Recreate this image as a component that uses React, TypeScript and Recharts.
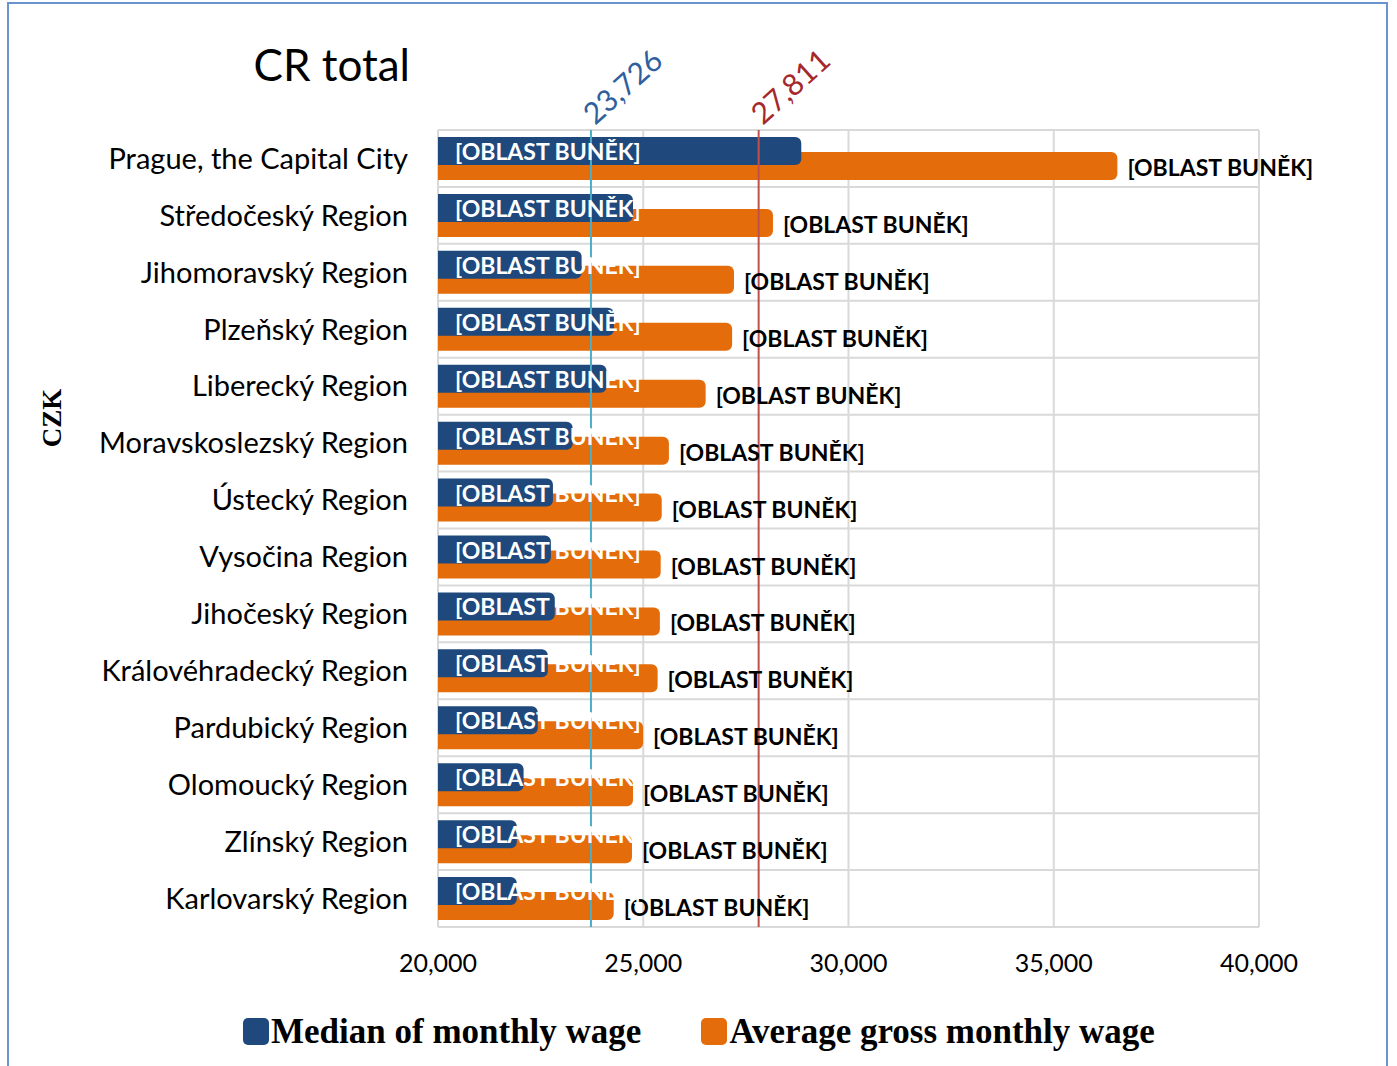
import React from 'react';
import {
  Bar,
  BarChart,
  CartesianGrid,
  LabelList,
  Legend,
  ReferenceLine,
  XAxis,
  YAxis,
} from 'recharts';

const regions = [
  'Prague, the Capital City',
  'Středočeský Region',
  'Jihomoravský Region',
  'Plzeňský Region',
  'Liberecký Region',
  'Moravskoslezský Region',
  'Ústecký Region',
  'Vysočina Region',
  'Jihočeský Region',
  'Královéhradecký Region',
  'Pardubický Region',
  'Olomoucký Region',
  'Zlínský Region',
  'Karlovarský Region',
];
const medianWage = [28850, 24750, 23500, 24285, 24105, 23280, 22800, 22750, 22845, 22675, 22430, 22085, 21920, 21920];
const averageWage = [36550, 28160, 27210, 27165, 26520, 25625, 25450, 25425, 25405, 25350, 24995, 24750, 24725, 24280];
const xTicks = [20000, 25000, 30000, 35000, 40000];
const crMedian = 23726;
const crAverage = 27811;
const cellLabel = '[OBLAST BUNĚK]';
const legendItems = [
  { name: 'Median of monthly wage', color: '#1f497d' },
  { name: 'Average gross monthly wage', color: '#e46c0a' },
];

const colors = {
  median: '#1f497d',
  average: '#e46c0a',
  medianLine: '#4bacc6',
  averageLine: '#c0504d',
  medianText: '#2f5f9e',
  averageText: '#a5282d',
  grid: '#d9d9d9',
  frame: '#6a94cf',
};

const data = regions.map((region, i) => ({
  region,
  median: medianWage[i],
  average: averageWage[i],
}));

const sans = 'Lato, "Open Sans", sans-serif';
const serif = '"Liberation Serif", "Times New Roman", serif';

function box(props: any) {
  const vb = props.viewBox || props;
  return { x: Number(vb.x), y: Number(vb.y), width: Number(vb.width), height: Number(vb.height) };
}

function MedianLabel(props: any) {
  const { x, y, height } = box(props);
  return (
    <text x={x + 17} y={y + height / 2} dominantBaseline="central" fill="#fff"
      fontFamily={sans} fontWeight={700} fontSize={23}>
      {cellLabel}
    </text>
  );
}

function AverageLabel(props: any) {
  const { x, y, width, height } = box(props);
  return (
    <text x={x + width + 10} y={y + height / 2 + 1} dominantBaseline="central" fill="#000"
      fontFamily={sans} fontWeight={700} fontSize={23}>
      {cellLabel}
    </text>
  );
}

function lineLabel(text: string, color: string) {
  return (props: any) => {
    const { x, y } = box(props);
    const tx = x + 4;
    const ty = y - 4;
    return (
      <text x={tx} y={ty} transform={`rotate(-42, ${tx}, ${ty})`} fill={color}
        fontFamily={sans} fontSize={30}>
        {text}
      </text>
    );
  };
}

function LegendContent() {
  return (
    <div style={{ display: 'flex', gap: 60, paddingLeft: 243, alignItems: 'center' }}>
      {legendItems.map((item) => (
        <div key={item.name} style={{ display: 'flex', alignItems: 'center' }}>
          <div style={{ width: 26, height: 27, borderRadius: 5, background: item.color, marginRight: 2 }} />
          <span style={{ fontFamily: serif, fontWeight: 700, fontSize: 35, color: '#000', lineHeight: 1 }}>
            {item.name}
          </span>
        </div>
      ))}
    </div>
  );
}

export default function App() {
  return (
    <div style={{ position: 'absolute', left: 0, top: 0, width: 1397, height: 1066, overflow: 'hidden', background: '#fff' }}>
      <div style={{ position: 'absolute', left: 7, top: 2, width: 1377, height: 1100, border: `2px solid ${colors.frame}` }} />
      <div style={{ position: 'absolute', left: 0, top: 42, width: 410, textAlign: 'right', fontFamily: sans, fontSize: 44, color: '#000', lineHeight: 1 }}>
        CR total
      </div>
      <div style={{ position: 'absolute', left: 52, top: 418, transform: 'translate(-50%, -50%) rotate(-90deg)', fontFamily: serif, fontWeight: 700, fontSize: 27, color: '#000', lineHeight: 1 }}>
        CZK
      </div>
      <BarChart
        width={1397}
        height={1066}
        data={data}
        layout="vertical"
        margin={{ top: 130, right: 138, bottom: 79, left: 30 }}
        barGap={-13}
      >
        <CartesianGrid
          stroke={colors.grid}
          strokeWidth={2}
          horizontalCoordinatesGenerator={({ offset }: any) =>
            Array.from({ length: regions.length + 1 }, (_, i) => offset.top + (i * offset.height) / regions.length)
          }
        />
        <XAxis
          type="number"
          domain={[20000, 40000]}
          ticks={xTicks}
          tickFormatter={(v: number) => v.toLocaleString('en-US')}
          axisLine={false}
          tickLine={false}
          tickMargin={21}
          height={60}
          tick={{ fill: '#000', fontSize: 25, fontFamily: sans }}
        />
        <YAxis
          type="category"
          dataKey="region"
          width={408}
          axisLine={false}
          tickLine={false}
          tickMargin={24}
          interval={0}
          tick={{ fill: '#000', fontSize: 29, fontFamily: sans }}
        />
        <YAxis yAxisId="front" type="category" dataKey="region" hide />
        <Bar dataKey="median" fill="transparent" barSize={28} legendType="none" isAnimationActive={false} />
        <Bar dataKey="average" name="Average gross monthly wage" fill={colors.average} barSize={28}
          radius={[0, 6, 6, 0]} isAnimationActive={false}>
          <LabelList dataKey="average" content={AverageLabel} />
        </Bar>
        <Bar yAxisId="front" dataKey="median" name="Median of monthly wage" fill={colors.median} barSize={28}
          radius={[0, 6, 6, 0]} isAnimationActive={false}>
          <LabelList dataKey="median" content={MedianLabel} />
        </Bar>
        <Bar yAxisId="front" dataKey="average" fill="transparent" barSize={28} legendType="none" isAnimationActive={false} />
        <ReferenceLine x={crMedian} stroke={colors.medianLine} strokeWidth={2}
          label={lineLabel(crMedian.toLocaleString('en-US'), colors.medianText)} />
        <ReferenceLine x={crAverage} stroke={colors.averageLine} strokeWidth={2}
          label={lineLabel(crAverage.toLocaleString('en-US'), colors.averageText)} />
        <Legend
          layout="horizontal"
          verticalAlign="middle"
          align="center"
          content={LegendContent}
          wrapperStyle={{ top: 1014, left: 0, width: 1397 }}
        />
      </BarChart>
    </div>
  );
}
